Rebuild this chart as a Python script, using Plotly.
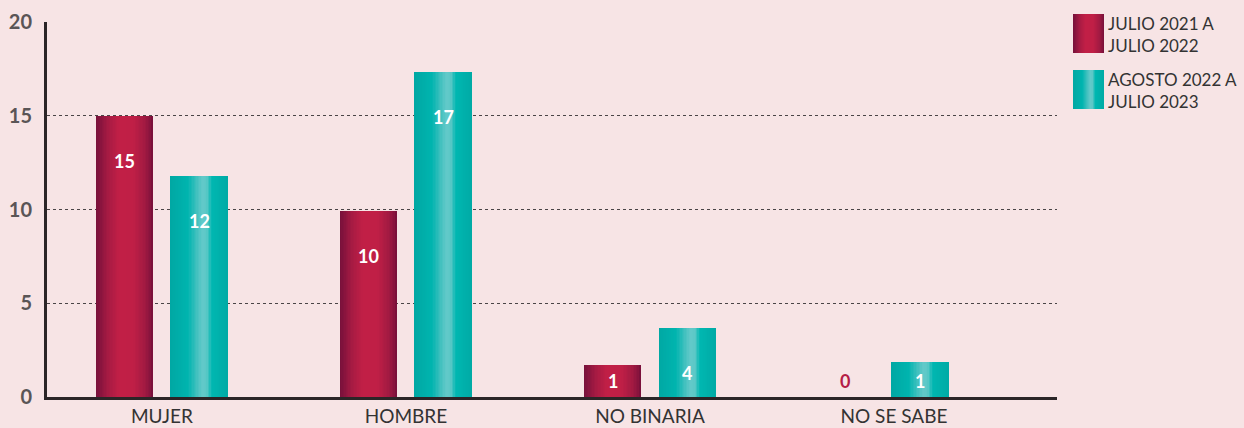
import plotly.graph_objects as go

# ---------------- data ----------------
categories = ["MUJER", "HOMBRE", "NO BINARIA", "NO SE SABE"]
series_names = ["JULIO 2021 A<br>JULIO 2022", "AGOSTO 2022 A<br>JULIO 2023"]
# bar heights as drawn in the reference
values_2122 = [15, 9.9, 1.7, 0]
values_2223 = [11.8, 17.35, 3.7, 1.85]
# value labels printed on the bars
labels_2122 = ["15", "10", "1", "0"]
labels_2223 = ["12", "17", "4", "1"]
y_ticks = [0, 5, 10, 15, 20]

# ---------------- style ----------------
BG = "#f7e4e5"
RED_STOPS = [(0.0, "#76103a"), (0.22, "#a81b43"), (0.4, "#c11f46"), (0.65, "#c01f46"), (0.85, "#a21a42"), (1.0, "#770f3a")]
TEAL_STOPS = [(0.0, "#00a8a3"), (0.3, "#00b4af"), (0.45, "#3fc0be"), (0.55, "#62c9c9"), (0.63, "#5cc8c7"), (0.72, "#00b7b1"), (1.0, "#00aaa5")]
N_STRIPS = 40
BAR_W = 0.236
OFFSETS = [-0.271, 0.035]
GROUP_SHIFT = [0, 0, 0, -0.046]   # small horizontal nudge of each bar pair (layout)


def hex2rgb(h):
    h = h.lstrip("#")
    return tuple(int(h[i:i + 2], 16) for i in (0, 2, 4))


def grad(stops, t):
    for (t0, c0), (t1, c1) in zip(stops[:-1], stops[1:]):
        if t0 <= t <= t1:
            f = (t - t0) / (t1 - t0) if t1 > t0 else 0
            a, b = hex2rgb(c0), hex2rgb(c1)
            return "rgb(%d,%d,%d)" % tuple(round(a[k] + (b[k] - a[k]) * f) for k in range(3))
    return stops[-1][1]


fig = go.Figure()

all_series = [(values_2122, labels_2122, RED_STOPS), (values_2223, labels_2223, TEAL_STOPS)]
for s, (vals, labs, stops) in enumerate(all_series):
    sw = BAR_W / N_STRIPS
    for i in range(N_STRIPS):
        t = (i + 0.5) / N_STRIPS
        wi = sw * 2 if i < N_STRIPS - 1 else sw
        fig.add_trace(go.Bar(
            x=categories, y=vals,
            width=wi, offset=[OFFSETS[s] + i * sw + g for g in GROUP_SHIFT],
            marker=dict(color=grad(stops, t), line=dict(width=0)),
            showlegend=False, hoverinfo="skip" if i else "x+y",
            name=series_names[s].replace("<br>", " "),
        ))

# value labels
for s, (vals, labs, stops) in enumerate(all_series):
    for ci, (v, lab) in enumerate(zip(vals, labs)):
        ypos = max(v - 2.4, 0.85)
        fig.add_annotation(
            x=ci + OFFSETS[s] + BAR_W / 2 + GROUP_SHIFT[ci], y=ypos, xref="x", yref="y",
            text="<b>%s</b>" % lab, showarrow=False,
            font=dict(family="Lato", size=18, color="#ffffff" if v > 0 else "#b51c45"),
        )

# custom legend (pixel geometry of the plot area)
L, R, T, B = 47, 1057, 22, 397


def px2paper_x(px):
    return (px - L) / (R - L)


def px2paper_y(py):
    return (B - py) / (B - T)


legend_boxes = [(14, 53), (70, 109)]
for s, (top, bot) in enumerate(legend_boxes):
    stops = all_series[s][2]
    x0, x1 = 1073, 1104
    n = 31
    for i in range(n):
        a = x0 + (x1 - x0) * i / n
        b = x0 + (x1 - x0) * (i + 1) / n + 0.6
        fig.add_shape(type="rect", xref="paper", yref="paper",
                      x0=px2paper_x(a), x1=px2paper_x(min(b, x1)),
                      y0=px2paper_y(bot), y1=px2paper_y(top),
                      line=dict(width=0), fillcolor=grad(stops, (i + 0.5) / n), layer="above")
    fig.add_annotation(xref="paper", yref="paper", x=px2paper_x(1106), y=px2paper_y((top + bot) / 2 + 1),
                       xanchor="left", yanchor="middle", align="left", showarrow=False,
                       text=series_names[s], font=dict(family="Lato", size=17, color="#333333"))

fig.update_layout(
    width=1244, height=428,
    margin=dict(l=L, r=1244 - R, t=T, b=428 - B, autoexpand=False),
    paper_bgcolor=BG, plot_bgcolor=BG,
    barmode="overlay", bargap=0,
    showlegend=False,
    xaxis=dict(type="category", range=[-0.471, 3.668], showgrid=False, automargin=False,
               showline=True, linecolor="#2b2527", linewidth=3,
               ticks="", ticklabelstandoff=0,
               tickfont=dict(family="Lato", size=19, color="#333333"), fixedrange=True),
    yaxis=dict(range=[0, 20], tickvals=y_ticks, showgrid=True, gridcolor="#4a4446", griddash="dot",
               gridwidth=1, showline=True, linecolor="#2b2527", linewidth=3, zeroline=False,
               ticks="", ticklabelstandoff=8, automargin=False,
               tickfont=dict(family="Lato", size=20, color="#5a5556", weight="bold"), fixedrange=True),
)

fig.write_html("out.html", config={"displayModeBar": False},
               post_script="document.body.style.margin='0';document.body.style.overflow='hidden';")
